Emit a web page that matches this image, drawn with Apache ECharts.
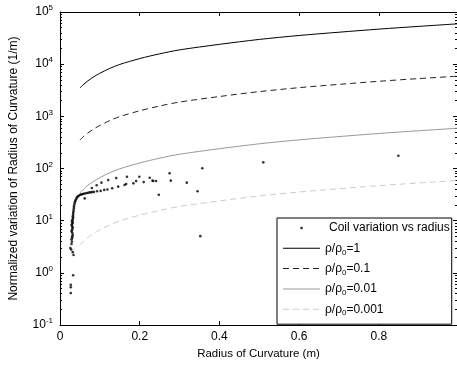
<!DOCTYPE html>
<html>
<head>
<meta charset="utf-8">
<script src="https://cdn.jsdelivr.net/npm/echarts@6/dist/echarts.min.js"></script>
<style>html,body{margin:0;padding:0;background:#fff}#c{width:457px;height:365px}</style>
</head>
<body>
<div id="c"></div>
<script>
// ---- data ----
const curveR = [0.05, 0.06, 0.07, 0.085, 0.1, 0.125, 0.15, 0.2, 0.25, 0.3, 0.4, 0.5, 0.6, 0.7, 0.8, 0.9, 1.0];
const rho1    = [3500, 4150, 4800, 5750, 6700, 8300, 9900, 12800, 15800, 18800, 24000, 29800, 35500, 41000, 47000, 53000, 59500];
const rho01   = [350, 415, 480, 575, 670, 830, 990, 1280, 1580, 1880, 2400, 2980, 3550, 4100, 4700, 5300, 5900];
const rho001  = [34, 41, 48, 57, 67, 83, 99, 128, 158, 188, 240, 298, 355, 410, 470, 530, 595];
const rho0001 = [3.4, 4.1, 4.8, 5.7, 6.7, 8.3, 9.9, 12.8, 15.8, 18.8, 24, 29.8, 35.5, 41, 47, 53, 59.5];

const coilR = [
  0.027, 0.027, 0.027, 0.033,
  0.026, 0.028, 0.032, 0.034,
  0.029, 0.030, 0.029, 0.031, 0.030, 0.032, 0.031, 0.029, 0.030, 0.031,
  0.032, 0.030, 0.029, 0.031, 0.032, 0.030, 0.031, 0.032, 0.033, 0.032,
  0.033, 0.033, 0.034, 0.034, 0.035, 0.035, 0.036, 0.037, 0.038, 0.039,
  0.041, 0.043, 0.045, 0.048, 0.051, 0.054, 0.057, 0.060, 0.064, 0.062,
  0.068, 0.072, 0.076, 0.080,
  0.085, 0.093, 0.102, 0.111, 0.119, 0.131, 0.146, 0.162, 0.166, 0.184,
  0.210, 0.234, 0.241, 0.278, 0.318,
  0.080, 0.092, 0.104, 0.121, 0.141, 0.168, 0.191, 0.199, 0.225, 0.232,
  0.275, 0.357, 0.510, 0.849,
  0.248, 0.345, 0.352
];
const coilV = [
  0.41, 0.53, 0.59, 0.90,
  3.0, 2.8, 2.5, 2.2,
  3.6, 4.0, 4.4, 4.7, 5.0, 5.3, 5.8, 6.2, 6.6, 7.0,
  7.5, 7.9, 8.4, 8.8, 9.2, 9.7, 10.2, 10.8, 11.5, 12.2,
  13.0, 14.0, 15.0, 16.2, 17.5, 19.0, 20.5, 22.0, 23.5, 25.0,
  26.5, 28.0, 29.5, 30.5, 31.5, 32.0, 32.5, 33.0, 33.5, 26.8,
  34.0, 34.5, 35.0, 35.3,
  35.7, 36.8, 37.3, 39.0, 39.6, 42.0, 45.0, 48.5, 50.6, 52.0,
  55.0, 57.7, 57.7, 58.6, 53.7,
  42.5, 47.8, 53.7, 60.1, 65.6, 69.7, 57.5, 69.7, 66.8, 58.6,
  81.5, 101, 131.5, 176,
  31.3, 36.8, 5.06
];

const seriesNames = ['Coil variation vs radius', 'ρ/ρ0=1', 'ρ/ρ0=0.1', 'ρ/ρ0=0.01', 'ρ/ρ0=0.001'];
const xLabel = 'Radius of Curvature (m)';
const yLabel = 'Normalized variation of Radius of Curvature (1/m)';

// ---- chart ----
const FONT = "'Liberation Sans', Arial, Helvetica, sans-serif";
const zip = (xs, ys) => xs.map((x, i) => [x, ys[i]]);

const ICON_DOT = 'path://M0,0M37,0M37,16M0,16M17.3,6.8h2.4v2.4h-2.4z';
const ICON_SOLID = 'path://M0,0M37,0M37,16M0,16M0,7.5h37v1h-37z';
const ICON_DASH = 'path://M0,0M37,0M37,16M0,16M0,7.5h6v1h-6zM10,7.5h6v1h-6zM20,7.5h6v1h-6zM30,7.5h6v1h-6z';

const chart = echarts.init(document.getElementById('c'), null, {renderer: 'canvas'});

const xCommon = {
  type: 'value', min: 0, max: 0.996, interval: 0.2,
  axisLine: {show: true, onZero: false, lineStyle: {color: '#000', width: 1}},
  axisTick: {show: true, inside: true, length: 4, lineStyle: {color: '#000', width: 1}},
  splitLine: {show: false}
};
const yCommon = {
  type: 'log', logBase: 10, min: 0.1, max: 100000, splitNumber: 6,
  axisLine: {show: true, onZero: false, lineStyle: {color: '#000', width: 1}},
  axisTick: {show: true, inside: true, length: 4, lineStyle: {color: '#000', width: 1}},
  minorTick: {show: true, splitNumber: 9, length: 2, lineStyle: {color: '#000', width: 1}},
  splitLine: {show: false}
};

const lineSeries = (name, data, color, type) => ({
  name, type: 'line', data, symbol: 'none', showSymbol: false, smooth: 0.3,
  lineStyle: {color, width: 1, type: type === 'dashed' ? [6, 4] : 'solid'},
  itemStyle: {color}, clip: true, silent: true, animation: false
});

chart.setOption({
  animation: false,
  backgroundColor: '#fff',
  textStyle: {fontFamily: FONT},
  grid: {left: 57.5, right: -1, top: 12, bottom: 35},
  xAxis: [
    Object.assign({}, xCommon, {
      position: 'bottom',
      axisLabel: {color: '#000', fontSize: 12, fontFamily: FONT, margin: 6, showMaxLabel: false},
      name: xLabel, nameLocation: 'middle', nameGap: 21,
      nameTextStyle: {color: '#000', fontSize: 11.5, fontFamily: FONT}
    }),
    Object.assign({}, xCommon, {position: 'top', axisLabel: {show: false}})
  ],
  yAxis: [
    Object.assign({}, yCommon, {
      position: 'left',
      axisLabel: {
        color: '#000', fontSize: 12, fontFamily: FONT, margin: 7, lineHeight: 16,
        formatter: v => '10{sup|' + Math.round(Math.log10(v)) + '}',
        rich: {sup: {fontSize: 8, lineHeight: 8, verticalAlign: 'top', color: '#000', fontFamily: FONT}}
      },
      name: yLabel, nameLocation: 'middle', nameGap: 40,
      nameTextStyle: {color: '#000', fontSize: 12, fontFamily: FONT}
    }),
    Object.assign({}, yCommon, {position: 'right', axisLabel: {show: false}})
  ],
  legend: {
    orient: 'vertical', left: 277, top: 218,
    backgroundColor: '#fff', borderColor: '#000', borderWidth: 1, borderRadius: 0,
    padding: [2, 2, 7, 6],
    itemWidth: 37, itemHeight: 16, itemGap: 4.3,
    selectedMode: false,
    data: [
      {name: seriesNames[0], icon: ICON_DOT},
      {name: seriesNames[1], icon: ICON_SOLID},
      {name: seriesNames[2], icon: ICON_DASH},
      {name: seriesNames[3], icon: ICON_SOLID},
      {name: seriesNames[4], icon: ICON_DASH}
    ],
    formatter: name => name.indexOf('ρ0') >= 0 ? name.replace('ρ0', 'ρ{sub|0}') : '{c|' + name + '}',
    textStyle: {
      color: '#000', fontSize: 12, fontFamily: FONT, lineHeight: 16,
      rich: {
        sub: {fontSize: 8, lineHeight: 8, verticalAlign: 'bottom', color: '#000', fontFamily: FONT},
        c: {fontSize: 12, lineHeight: 16, padding: [0, 0, 0, 4], color: '#000', fontFamily: FONT}
      }
    }
  },
  series: [
    {
      name: seriesNames[0], type: 'scatter', data: zip(coilR, coilV),
      symbol: 'circle', symbolSize: 2.6, itemStyle: {color: '#000'}, silent: true, animation: false
    },
    lineSeries(seriesNames[1], zip(curveR, rho1), '#000', 'solid'),
    lineSeries(seriesNames[2], zip(curveR, rho01), '#222', 'dashed'),
    lineSeries(seriesNames[3], zip(curveR, rho001), '#999', 'solid'),
    lineSeries(seriesNames[4], zip(curveR, rho0001), '#ccc', 'dashed')
  ]
});
</script>
</body>
</html>
